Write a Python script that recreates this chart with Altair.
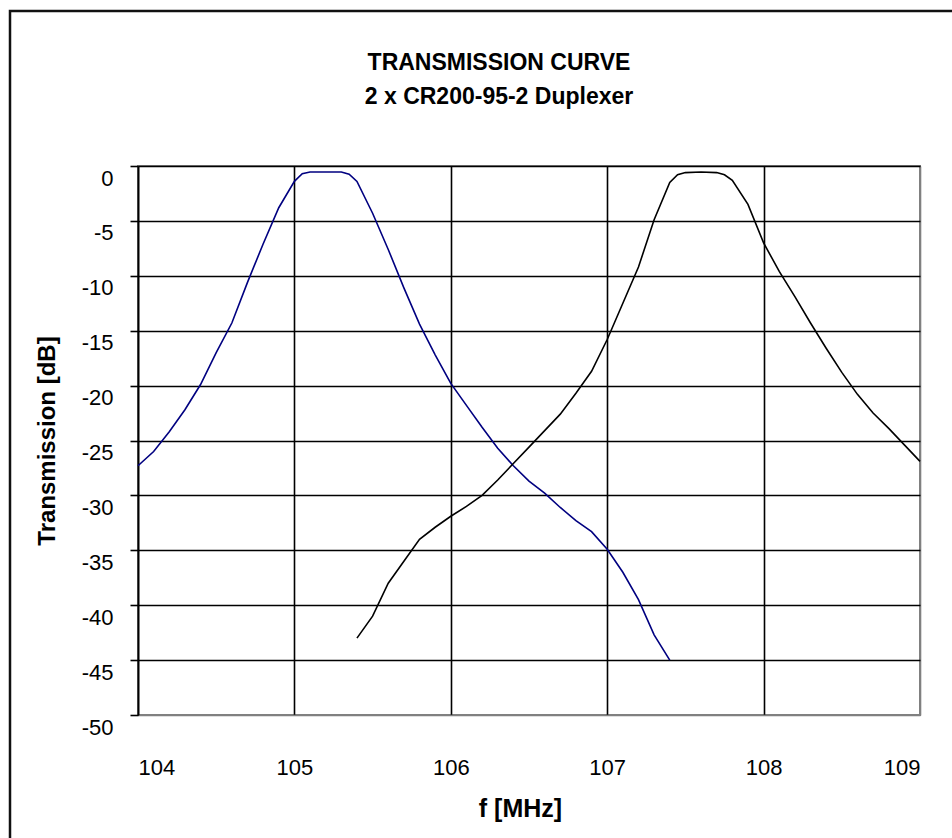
import altair as alt
import pandas as pd

# Series 1 (blue): lower channel
f_blue = [104.0, 104.1, 104.2, 104.3, 104.4, 104.5, 104.6, 104.7, 104.8, 104.9,
          105.0, 105.05, 105.1, 105.2, 105.3, 105.35, 105.4, 105.5, 105.6, 105.7,
          105.8, 105.9, 106.0, 106.1, 106.2, 106.3, 106.4, 106.5, 106.6, 106.7,
          106.8, 106.9, 107.0, 107.1, 107.2, 107.3, 107.4]
db_blue = [-27.3, -26.0, -24.2, -22.2, -19.9, -17.0, -14.3, -10.6, -7.1, -3.8,
           -1.4, -0.7, -0.55, -0.55, -0.55, -0.75, -1.4, -4.3, -7.6, -11.1,
           -14.4, -17.2, -19.8, -21.8, -23.8, -25.7, -27.3, -28.7, -29.8, -31.1,
           -32.3, -33.3, -34.9, -37.0, -39.5, -42.7, -45.0]

# Series 2 (black): upper channel
f_black = [105.4, 105.5, 105.6, 105.7, 105.8, 105.9, 106.0, 106.1, 106.2, 106.3,
           106.4, 106.5, 106.6, 106.7, 106.8, 106.9, 107.0, 107.1, 107.2, 107.3,
           107.4, 107.45, 107.5, 107.6, 107.7, 107.75, 107.8, 107.9, 108.0, 108.1,
           108.2, 108.3, 108.4, 108.5, 108.6, 108.7, 108.8, 108.9, 109.0]
db_black = [-43.0, -41.0, -38.0, -36.0, -34.0, -32.9, -31.9, -31.0, -30.0, -28.6,
            -27.1, -25.6, -24.1, -22.6, -20.7, -18.7, -15.8, -12.5, -9.2, -4.9,
            -1.5, -0.8, -0.6, -0.55, -0.6, -0.8, -1.3, -3.5, -7.0, -9.6,
            -11.9, -14.3, -16.6, -18.8, -20.8, -22.5, -23.9, -25.4, -26.9]

x_ticks = [104, 105, 106, 107, 108, 109]
y_ticks = [0, -5, -10, -15, -20, -25, -30, -35, -40, -45, -50]

title_lines = ["TRANSMISSION CURVE", "2 x CR200-95-2 Duplexer"]
x_title = "f [MHz]"
y_title = "Transmission [dB]"
series_names = ["Lower", "Upper"]
series_colors = ["#000080", "#000000"]

df = pd.concat([
    pd.DataFrame({"series": series_names[0], "f": f_blue, "db": db_blue, "order": range(len(f_blue))}),
    pd.DataFrame({"series": series_names[1], "f": f_black, "db": db_black, "order": range(len(f_black))}),
])

FONT = "Liberation Sans"

frame = alt.Chart(pd.DataFrame({"k": [0]})).mark_rect(
    fill=None, stroke="#111111", strokeWidth=2.5, clip=False
).encode(
    x=alt.value(-128), y=alt.value(-155), x2=alt.value(1000), y2=alt.value(900)
)

lines = alt.Chart(df).mark_line(strokeWidth=1.6, clip=False).encode(
    x=alt.X("f:Q",
            scale=alt.Scale(domain=[104, 109], nice=False, zero=False),
            axis=alt.Axis(values=x_ticks, title=x_title, ticks=False, domain=False,
                          grid=True,
                          gridColor=alt.condition("datum.value == 109", alt.value("#808080"), alt.value("#000000")),
                          gridWidth=1.6,
                          labelExpr="'' + datum.value",
                          labelFont=FONT, labelFontSize=22, labelColor="#000000",
                          labelBaseline="middle", labelPadding=52,
                          titleFont=FONT, titleFontSize=25, titleFontWeight="bold", titleColor="#000000",
                          titleBaseline="middle", titleX=382, titleY=93)),
    y=alt.Y("db:Q",
            scale=alt.Scale(domain=[-50, 0], nice=False, zero=False),
            axis=alt.Axis(values=y_ticks, title=y_title, ticks=True, tickSize=8, tickColor="#000000",
                          tickWidth=1.6, domain=True, domainColor="#000000", domainWidth=1.6,
                          grid=True,
                          gridColor=alt.condition("datum.value == -50", alt.value("#808080"), alt.value("#000000")),
                          gridWidth=1.6,
                          labelExpr="'' + datum.value",
                          labelFont=FONT, labelFontSize=22, labelColor="#000000",
                          labelPadding=17, labelOffset=12, labelAlign="right",
                          titleFont=FONT, titleFontSize=24, titleFontWeight="bold", titleColor="#000000",
                          titleBaseline="middle", titleAngle=270, titleX=-91, titleY=274.5)),
    color=alt.Color("series:N", scale=alt.Scale(domain=series_names, range=series_colors), legend=None),
    order="order:Q",
)

chart = alt.layer(frame, lines).properties(
    width=782, height=549,
    padding={"left": 138, "top": 166, "right": 32, "bottom": 123},
    autosize=alt.AutoSizeParams(type="none"),
    background="#ffffff",
    title=alt.TitleParams(text=title_lines, font=FONT, fontSize=23, fontWeight="bold",
                          color="#000000", anchor="middle", frame="group", baseline="bottom",
                          lineHeight=34, dx=-30, dy=122.5, offset=0),
).configure_view(stroke="#808080", strokeWidth=2)

chart.save("out.html", embed_options={"renderer": "svg", "actions": False})
